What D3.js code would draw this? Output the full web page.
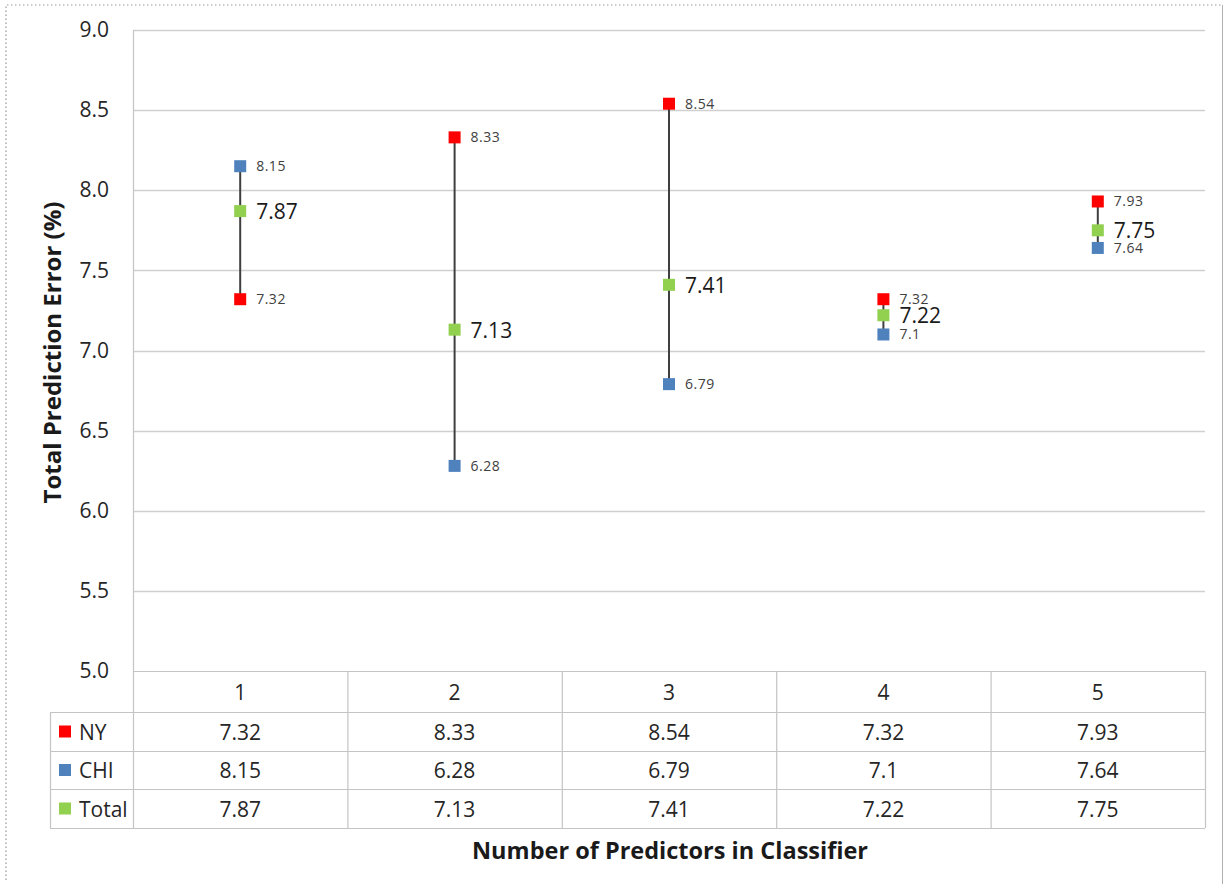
<!DOCTYPE html>
<html>
<head>
<meta charset="utf-8">
<script src="https://cdn.jsdelivr.net/npm/d3@7"></script>
<style>
  body { margin: 0; background: #fff; }
  svg { display: block; font-family: "Open Sans", "DejaVu Sans", sans-serif; }
</style>
</head>
<body>
<svg id="chart" width="1225" height="884"></svg>
<script>
// Predictor counts and per-city prediction error (%)
const categories = ["1", "2", "3", "4", "5"];
const nyValues = [7.32, 8.33, 8.54, 7.32, 7.93];
const chiValues = [8.15, 6.28, 6.79, 7.1, 7.64];
const totalValues = [7.87, 7.13, 7.41, 7.22, 7.75];
const yTicks = [5.0, 5.5, 6.0, 6.5, 7.0, 7.5, 8.0, 8.5, 9.0];

const seriesColors = { NY: "#ff0000", CHI: "#4f81bd", Total: "#92d050" };
const series = [
  { name: "NY", values: nyValues },
  { name: "CHI", values: chiValues },
  { name: "Total", values: totalValues }
];

const svg = d3.select("#chart");
const plot = { left: 133, right: 1205, top: 30, bottom: 671 };
const tableLeft = 50;
const rowEdges = [671, 712, 751, 789, 828];
const textColor = "#262626";

const x = d3.scaleBand().domain(categories).range([plot.left, plot.right]);
const y = d3.scaleLinear().domain([5, 9]).range([plot.bottom, plot.top]);

// Outer frame
svg.append("path")
  .attr("d", `M6,880 L6,5 L1222,5`)
  .attr("fill", "none").attr("stroke", "#9a9a9a")
  .attr("stroke-width", 1.2).attr("stroke-dasharray", "1.5,2.5");
svg.append("line")
  .attr("x1", 1222.5).attr("x2", 1222.5).attr("y1", 5).attr("y2", 884)
  .attr("stroke", "#b0b0b0").attr("stroke-width", 1);

// Horizontal gridlines
svg.append("g").selectAll("line")
  .data(yTicks.filter(t => t > 5))
  .join("line")
  .attr("x1", plot.left).attr("x2", plot.right)
  .attr("y1", d => Math.round(y(d)) + 0.5).attr("y2", d => Math.round(y(d)) + 0.5)
  .attr("stroke", "#d0d0d0").attr("stroke-width", 1.5);

// Y axis tick labels
const yAxis = d3.axisLeft(y).tickValues(yTicks).tickFormat(d3.format(".1f")).tickSize(0).tickPadding(24);
const yg = svg.append("g").attr("transform", `translate(${plot.left},0)`).call(yAxis);
yg.select(".domain").remove();
yg.selectAll("text").attr("font-size", 21).attr("fill", textColor)
  .attr("font-family", "'Open Sans', sans-serif");

// Left plot border
svg.append("line")
  .attr("x1", plot.left + 0.5).attr("x2", plot.left + 0.5)
  .attr("y1", plot.top).attr("y2", rowEdges[4])
  .attr("stroke", "#c4c4c4").attr("stroke-width", 1.2);

// Data table grid
const tg = svg.append("g").attr("stroke", "#c4c4c4").attr("stroke-width", 1.2);
tg.append("line").attr("x1", plot.left).attr("x2", plot.right)
  .attr("y1", rowEdges[0] + 0.5).attr("y2", rowEdges[0] + 0.5);
rowEdges.slice(1).forEach(r => {
  tg.append("line").attr("x1", tableLeft).attr("x2", plot.right)
    .attr("y1", r + 0.5).attr("y2", r + 0.5);
});
tg.append("line").attr("x1", tableLeft + 0.5).attr("x2", tableLeft + 0.5)
  .attr("y1", rowEdges[1]).attr("y2", rowEdges[4]);
categories.forEach(c => {
  const xr = x(c) + x.bandwidth();
  tg.append("line").attr("x1", xr + 0.5).attr("x2", xr + 0.5)
    .attr("y1", rowEdges[0]).attr("y2", rowEdges[4]);
});

// Category headers
svg.append("g").selectAll("text")
  .data(categories).join("text")
  .attr("x", d => x(d) + x.bandwidth() / 2)
  .attr("y", (rowEdges[0] + rowEdges[1]) / 2 + 8)
  .attr("text-anchor", "middle").attr("font-size", 21).attr("fill", textColor)
  .text(d => d);

// Table rows: legend key, name and values
series.forEach((s, i) => {
  const cy = (rowEdges[i + 1] + rowEdges[i + 2]) / 2;
  svg.append("rect")
    .attr("x", 59).attr("y", cy - 6).attr("width", 12).attr("height", 12)
    .attr("fill", seriesColors[s.name]);
  svg.append("text")
    .attr("x", 79).attr("y", cy + 8)
    .attr("font-size", 21).attr("fill", textColor).text(s.name);
  svg.append("g").selectAll("text")
    .data(s.values).join("text")
    .attr("x", (d, j) => x(categories[j]) + x.bandwidth() / 2)
    .attr("y", cy + 8)
    .attr("text-anchor", "middle").attr("font-size", 21).attr("fill", textColor)
    .text(d => d);
});

// High-low connector lines
svg.append("g").selectAll("line")
  .data(categories).join("line")
  .attr("x1", d => x(d) + x.bandwidth() / 2)
  .attr("x2", d => x(d) + x.bandwidth() / 2)
  .attr("y1", (d, j) => y(Math.max(nyValues[j], chiValues[j], totalValues[j])))
  .attr("y2", (d, j) => y(Math.min(nyValues[j], chiValues[j], totalValues[j])))
  .attr("stroke", "#3f3f3f").attr("stroke-width", 2);

// Markers and value labels
series.forEach(s => {
  const g = svg.append("g");
  g.selectAll("rect")
    .data(s.values).join("rect")
    .attr("x", (d, j) => x(categories[j]) + x.bandwidth() / 2 - 6)
    .attr("y", d => y(d) - 6)
    .attr("width", 12).attr("height", 12)
    .attr("fill", seriesColors[s.name]);
  const big = s.name === "Total";
  g.selectAll("text")
    .data(s.values).join("text")
    .attr("x", (d, j) => x(categories[j]) + x.bandwidth() / 2 + 16)
    .attr("y", d => y(d) + (big ? 8 : 5))
    .attr("font-size", big ? 21 : 14)
    .attr("letter-spacing", big ? 0 : 0.5)
    .attr("fill", big ? "#1a1a1a" : "#404040")
    .text(d => d);
});

// Axis titles
svg.append("text")
  .attr("transform", `translate(61,${(plot.top + plot.bottom) / 2 + 2}) rotate(-90)`)
  .attr("text-anchor", "middle").attr("font-size", 24).attr("font-weight", "bold")
  .attr("fill", "#1a1a1a").text("Total Prediction Error (%)");
svg.append("text")
  .attr("x", 670).attr("y", 859)
  .attr("text-anchor", "middle").attr("font-size", 23.5).attr("font-weight", "bold")
  .attr("fill", "#1a1a1a").text("Number of Predictors in Classifier");
</script>
</body>
</html>
